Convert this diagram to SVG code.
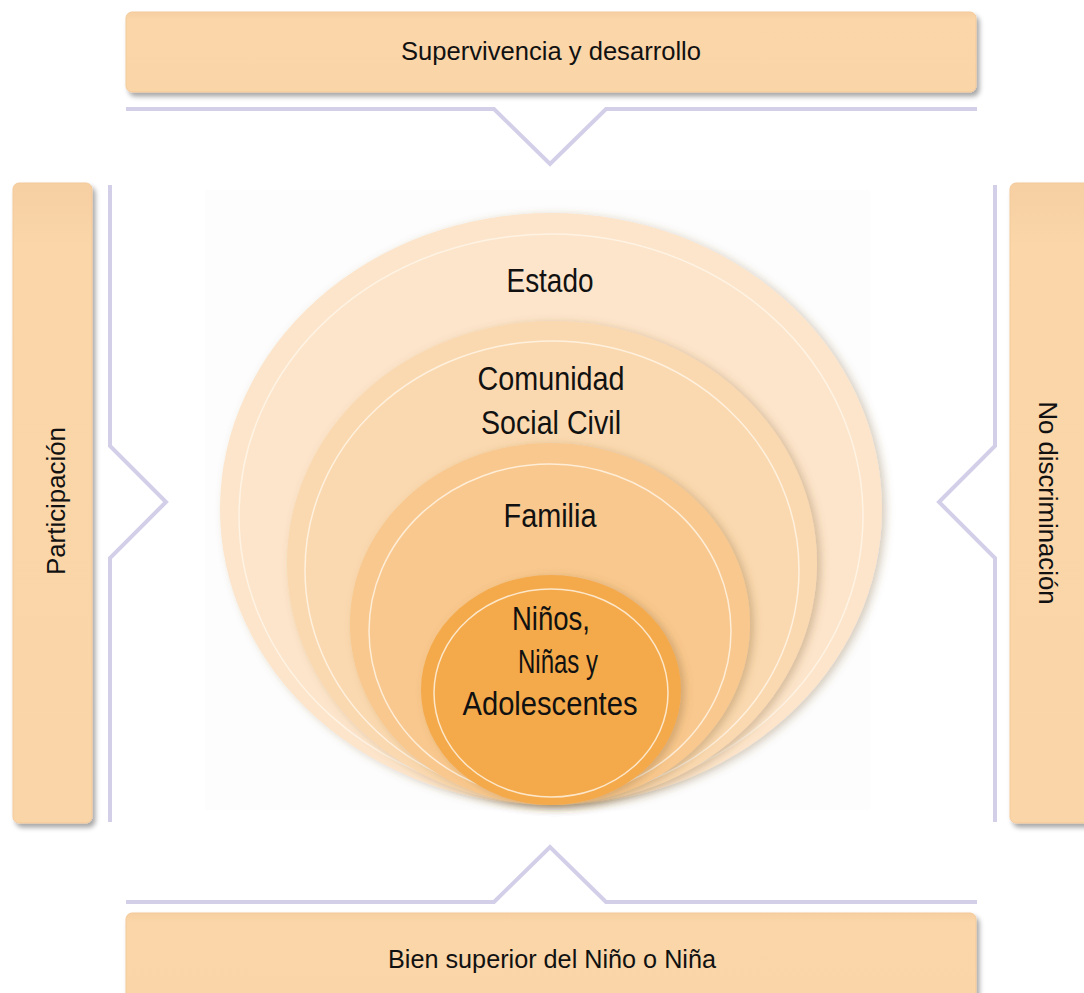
<svg xmlns="http://www.w3.org/2000/svg" width="1084" height="993" viewBox="0 0 1084 993">
<defs>
<filter id="sh" x="-10%" y="-10%" width="130%" height="130%">
<feDropShadow dx="3" dy="4" stdDeviation="2.5" flood-color="#000" flood-opacity="0.35"/>
</filter>
<filter id="csh" x="-10%" y="-10%" width="130%" height="130%">
<feDropShadow dx="4" dy="2" stdDeviation="4" flood-color="#7a5a30" flood-opacity="0.3"/>
</filter>
<linearGradient id="boxg" x1="0" y1="0" x2="0" y2="1">
<stop offset="0" stop-color="#F6CFA2"/>
<stop offset="0.1" stop-color="#FAD6A9"/>
<stop offset="1" stop-color="#FAD5A8"/>
</linearGradient>
</defs>
<style>
.box{fill:url(#boxg);stroke:#F3C99A;stroke-width:1;filter:url(#sh)}
.lbl{font-family:"Liberation Sans",Arial,sans-serif;fill:#111;text-anchor:middle}
.conn{fill:none;stroke:#D3CFE9;stroke-width:4}
.ring{fill:none;stroke:#FFF6EA;stroke-width:1.5;opacity:0.8}
</style>
<rect width="1084" height="993" fill="#fff"/>
<rect x="205" y="190" width="665" height="620" fill="#fdfdfd"/>
<g id="connectors">
<polyline class="conn" points="126,109 494,109 550,164 606,109 977,109"/>
<polyline class="conn" points="126,902 494,902 550,847 606,902 977,902"/>
<polyline class="conn" points="110,185 110,446 166,502 110,558 110,822"/>
<polyline class="conn" points="995,185 995,446 939,502 995,558 995,822"/>
</g>
<g id="top">
<rect class="box" x="126" y="12" width="850" height="80" rx="6"/>
<text class="lbl" x="551" y="60" font-size="26" textLength="300" lengthAdjust="spacingAndGlyphs">Supervivencia y desarrollo</text>
</g>
<g id="bottom">
<rect class="box" x="126" y="913" width="850" height="90" rx="6"/>
<text class="lbl" x="552" y="968" font-size="26" textLength="328" lengthAdjust="spacingAndGlyphs">Bien superior del Niño o Niña</text>
</g>
<g id="left">
<rect class="box" x="13" y="183" width="79" height="640" rx="6"/>
<text class="lbl" transform="translate(65,501) rotate(-90)" font-size="26" textLength="148" lengthAdjust="spacingAndGlyphs">Participación</text>
</g>
<g id="right">
<rect class="box" x="1010" y="183" width="90" height="640" rx="6"/>
<text class="lbl" transform="translate(1039,503) rotate(90)" font-size="26" textLength="203" lengthAdjust="spacingAndGlyphs">No discriminación</text>
</g>
<g id="estado">
<ellipse cx="551" cy="509" rx="331" ry="296" fill="#FDE5CB" filter="url(#csh)"/>
<ellipse class="ring" cx="551" cy="516" rx="312" ry="282"/>
<text class="lbl" x="550" y="292" font-size="33" textLength="87" lengthAdjust="spacingAndGlyphs">Estado</text>
</g>
<g id="comunidad">
<ellipse cx="552" cy="563" rx="265" ry="242" fill="#FBD9B0" filter="url(#csh)"/>
<ellipse class="ring" cx="552" cy="570" rx="247" ry="229"/>
<text class="lbl" x="551" y="390" font-size="33" textLength="147" lengthAdjust="spacingAndGlyphs">Comunidad</text>
<text class="lbl" x="551" y="434" font-size="33" textLength="140" lengthAdjust="spacingAndGlyphs">Social Civil</text>
</g>
<g id="familia">
<ellipse cx="550" cy="624" rx="200" ry="181" fill="#F9C88E" filter="url(#csh)"/>
<ellipse class="ring" cx="550" cy="631" rx="181" ry="167"/>
<text class="lbl" x="550" y="527" font-size="33" textLength="93" lengthAdjust="spacingAndGlyphs">Familia</text>
</g>
<g id="ninos">
<ellipse cx="551" cy="690" rx="130" ry="115" fill="#F4AA4C" filter="url(#csh)"/>
<ellipse class="ring" cx="551" cy="693" rx="117" ry="104"/>
<text class="lbl" x="551" y="630" font-size="33" textLength="78" lengthAdjust="spacingAndGlyphs">Niños,</text>
<text class="lbl" x="558" y="673" font-size="33" textLength="80" lengthAdjust="spacingAndGlyphs">Niñas y</text>
<text class="lbl" x="550" y="715" font-size="33" textLength="175" lengthAdjust="spacingAndGlyphs">Adolescentes</text>
</g>
</svg>
